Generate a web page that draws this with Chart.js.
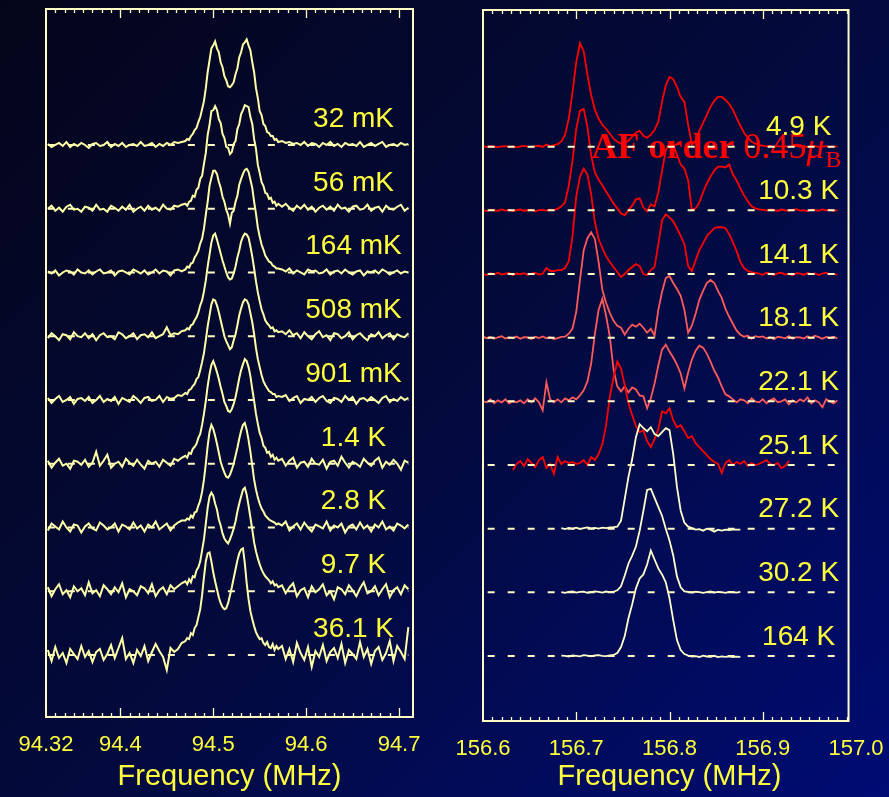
<!DOCTYPE html>
<html lang="en">
<head>
<meta charset="UTF-8">
<title>NMR spectra vs temperature</title>
<script src="https://cdn.jsdelivr.net/npm/chart.js"></script>
<style>
  html, body { margin: 0; padding: 0; }
  body {
    width: 889px; height: 797px; overflow: hidden; position: relative;
    background: linear-gradient(135deg, #05051a 0%, #030a3c 50%, #000c74 100%);
  }
  canvas { position: absolute; top: 0; }
  #leftChart { left: 0; }
  #rightChart { left: 439px; }
</style>
</head>
<body>
<canvas id="leftChart" width="445" height="797"></canvas>
<canvas id="rightChart" width="461" height="797"></canvas>

<script>
const SANS = '"Liberation Sans", Arial, sans-serif';
const SERIF = '"Liberation Serif", "Times New Roman", serif';
const YELLOW = '#ffff3c';
const CREAM = '#fffcc4';

// frequency grids (MHz)
const leftFreq = [
  94.322, 94.326, 94.330, 94.334, 94.338, 94.342, 94.346, 94.350, 94.354, 94.358,
  94.362, 94.366, 94.370, 94.374, 94.378, 94.382, 94.386, 94.390, 94.394, 94.398,
  94.402, 94.406, 94.410, 94.414, 94.418, 94.422, 94.426, 94.430, 94.434, 94.438,
  94.442, 94.446, 94.450, 94.454, 94.458, 94.462, 94.466,
  94.470, 94.472, 94.474, 94.476, 94.478, 94.480, 94.482, 94.484, 94.486, 94.488,
  94.490, 94.492, 94.494, 94.496, 94.498, 94.500, 94.502, 94.504, 94.506, 94.508,
  94.510, 94.512, 94.514, 94.516, 94.518, 94.520, 94.522, 94.524, 94.526, 94.528,
  94.530, 94.532, 94.534, 94.536, 94.538, 94.540, 94.542, 94.544, 94.546, 94.548,
  94.550, 94.552, 94.554, 94.556, 94.558, 94.560, 94.562, 94.564, 94.566, 94.568, 94.570,
  94.574, 94.578, 94.582, 94.586, 94.590, 94.594, 94.598, 94.602, 94.606, 94.610,
  94.614, 94.618, 94.622, 94.626, 94.630, 94.634, 94.638, 94.642, 94.646, 94.650,
  94.654, 94.658, 94.662, 94.666, 94.670, 94.674, 94.678, 94.682, 94.686, 94.690,
  94.694, 94.698, 94.702, 94.706, 94.710
];
const rightFreq = [
  156.600, 156.604, 156.608, 156.612, 156.616, 156.620, 156.624, 156.628, 156.632, 156.636,
  156.640, 156.644, 156.648, 156.652, 156.656, 156.660, 156.664, 156.668, 156.672, 156.676,
  156.680, 156.684, 156.688, 156.692, 156.696, 156.700, 156.704, 156.708, 156.712, 156.716,
  156.720, 156.724, 156.728, 156.732, 156.736, 156.740, 156.744, 156.748, 156.752, 156.756,
  156.760, 156.764, 156.768, 156.772, 156.776, 156.780, 156.784, 156.788, 156.792, 156.796,
  156.800, 156.804, 156.808, 156.812, 156.816, 156.820, 156.824, 156.828, 156.832, 156.836,
  156.840, 156.844, 156.848, 156.852, 156.856, 156.860, 156.864, 156.868, 156.872, 156.876,
  156.880, 156.884, 156.888, 156.892, 156.896, 156.900, 156.904, 156.908, 156.912, 156.916,
  156.920, 156.924, 156.928, 156.932, 156.936, 156.940, 156.944, 156.948, 156.952, 156.956,
  156.960, 156.964, 156.968, 156.972, 156.976, 156.980
];
// shorter sweeps used for the 25.1 K and the paramagnetic spectra
const freq25K = rightFreq.slice(8, 83);
const freqPara = rightFreq.slice(21, 70);

const leftTemps = ['32 mK', '56 mK', '164 mK', '508 mK', '901 mK', '1.4 K', '2.8 K', '9.7 K', '36.1 K'];
const rightTemps = ['4.9 K', '10.3 K', '14.1 K', '18.1 K', '22.1 K', '25.1 K', '27.2 K', '30.2 K', '164 K'];

// left panel spectra, intensity (arb. units)
const s32mK = [
  1, -2, 0, 2, -1, 3, -2, 1, -1, 2, 0, -3, 1, 2, -1, 0, 3, -2, 1, -1, 2, -2, 0, 1, -1, 3, -1, 0, 2, -2, 1, -1, 2, 0, 3, 2, 3,
  4, 6, 5, 9, 11, 15, 17, 23, 28, 36, 44, 57, 73, 85, 97, 100, 104, 97, 93, 83, 78, 69, 65, 59, 58, 60, 63, 71, 77, 88,
  93, 101, 103, 106, 100, 95, 83, 73, 57, 47, 34, 30, 21, 19, 13, 12, 9, 9, 5, 6, 3,
  4, 2, 3, 1, 2, 0, 3, -1, 2, 1, -2, 2, 0, 3, -1, 1, -2, 2, 0, 1, -1, 3, -2, 0, 2, -1, 1, 3, -2, 0, 1, -1, 2, 0, 1
];
const s56mK = [
  0, 3, -2, 1, -3, 2, 4, -1, 0, -3, 2, 1, -2, 4, -1, 0, -3, 3, 1, -2, 2, -1, 4, -3, 0, 2, -2, 3, -1, 1, -2, 4, 0, -1, 3, 2, 4,
  5, 3, 7, 8, 13, 12, 19, 21, 30, 33, 45, 56, 74, 84, 98, 99, 103, 99, 90, 86, 75, 71, 62, 61, 55, 57, 65, 68, 80, 85,
  95, 99, 104, 103, 102, 92, 85, 70, 60, 44, 36, 27, 23, 16, 15, 10, 11, 6, 7, 3, 5,
  2, 5, 1, -2, 3, 0, 4, -1, 2, -3, 1, 3, -1, 2, -2, 4, 0, 1, -3, 2, 3, -1, 0, 4, -2, 1, 2, -3, 3, 0, -1, 2, 4, -2, 1
];
const s164mK = [
  1, -1, 2, -3, 0, 2, 1, -2, 3, 0, -1, 2, -2, 1, 3, -1, 0, 2, -3, 1, 2, 0, -2, 3, 1, -1, 2, -2, 0, 3, -1, 2, 1, -3, 2, 3, 1,
  3, 6, 5, 9, 10, 15, 18, 22, 29, 34, 44, 58, 71, 87, 95, 102, 102, 99, 91, 85, 76, 71, 63, 58, 49, 60, 62, 71, 77, 88,
  94, 99, 103, 104, 101, 93, 85, 71, 59, 45, 36, 28, 23, 17, 14, 11, 10, 7, 6, 4, 4,
  3, 1, 4, -1, 2, 0, -2, 3, 1, 2, -1, 0, 3, -2, 1, 2, -1, 3, 0, -2, 1, 2, -3, 1, 0, 2, -1, 3, 1, -2, 0, 2, -1, 1, 0
];
const s508mK = [
  -2, 3, 0, -4, 2, 1, -3, 4, 0, -1, 3, -2, 2, -4, 1, 3, -1, 0, -3, 4, 2, -2, 0, 3, -3, 1, 2, -1, 4, -2, 0, 2, 9, 1, 3, 2, 5,
  6, 8, 7, 11, 12, 16, 19, 24, 31, 36, 45, 56, 70, 82, 94, 101, 103, 97, 90, 83, 76, 70, 64, 59, 57, 58, 63, 70, 79, 86,
  95, 100, 103, 102, 99, 90, 80, 68, 55, 44, 35, 27, 22, 16, 13, 11, 8, 9, 5, 6, 4,
  5, 2, 6, 1, 3, -2, 4, 0, -3, 2, 5, -1, 1, -4, 3, 2, -2, 0, 4, -3, 1, 3, -1, -4, 2, 0, 4, -2, 1, 3, -3, 2, 0, -1, 3
];
const s901mK = [
  2, -3, 1, 4, -2, 0, 3, -4, 1, 2, -1, 3, -3, 0, 4, -2, 1, -1, 3, -4, 2, 0, -2, 4, 1, -3, 2, 3, -1, 0, 4, -2, 3, 1, 2, 5, 4,
  7, 6, 10, 11, 14, 16, 21, 23, 30, 38, 47, 60, 74, 85, 96, 101, 100, 95, 88, 80, 72, 64, 59, 55, 51, 53, 60, 66, 75, 85,
  92, 98, 101, 100, 96, 87, 78, 66, 52, 41, 33, 25, 19, 15, 12, 9, 8, 6, 6, 3, 4,
  3, 5, -1, 2, 4, -3, 1, 0, 3, -2, 2, 4, -1, -3, 2, 1, -2, 4, 0, 3, -4, 1, 2, -1, 3, 0, -3, 2, 4, -2, 1, -1, 3, 0, 2
];
const s1p4K = [
  3, -4, 1, 5, -2, 0, -5, 3, 2, -1, 4, -3, 1, 12, -2, 3, 9, -4, 0, 2, -3, 5, 1, -2, 4, -1, -5, 3, 0, 2, -3, 4, 1, -2, 5, 3, 6,
  8, 6, 11, 10, 15, 17, 20, 26, 30, 39, 50, 63, 78, 90, 99, 103, 98, 92, 85, 77, 70, 62, 58, 53, 52, 55, 60, 67, 76, 86,
  94, 100, 105, 103, 97, 88, 75, 63, 50, 40, 31, 26, 18, 16, 11, 12, 7, 9, 4, 6, 3,
  5, -2, 3, 6, -4, 1, 2, -3, 5, 0, -1, 4, -5, 2, 3, -2, 7, 1, -4, 2, 0, -3, 5, 1, -2, 3, 6, -4, 2, -1, 4, 0, -6, 3, 1
];
const s2p8K = [
  -3, 4, 1, -2, 6, 0, -4, 3, 2, -5, 1, 4, -1, -3, 5, 2, -2, 0, 4, -4, 3, 1, -2, 5, -1, 2, -4, 3, 0, 6, -2, 1, 4, -3, 2, 5, 7,
  7, 9, 8, 12, 10, 15, 16, 22, 27, 36, 48, 64, 82, 96, 103, 99, 92, 84, 75, 66, 60, 55, 51, 50, 53, 58, 64, 72, 80, 89,
  97, 103, 105, 98, 88, 76, 62, 48, 38, 30, 24, 19, 16, 12, 10, 8, 7, 6, 5, 3, 4,
  2, 6, -3, 1, 4, -2, 5, 0, -4, 3, 1, -1, 6, -3, 2, 0, 4, -5, 1, 3, -2, 5, -1, 2, -4, 3, 0, 6, -2, 1, -3, 4, 2, -1, 3
];
const s9p7K = [
  4, -5, 2, 7, -3, 1, -6, 5, 0, 3, -4, 9, -2, 1, -5, 6, 2, -3, 4, -1, 8, -6, 2, 0, -4, 5, 3, -2, 7, -5, 1, 4, -3, 6, 2, 5, 8,
  10, 7, 12, 9, 15, 14, 21, 24, 30, 41, 52, 68, 84, 95, 99, 96, 88, 82, 72, 66, 58, 53, 50, 48, 52, 57, 63, 70, 80, 88,
  95, 102, 104, 97, 86, 74, 62, 49, 40, 33, 27, 22, 18, 15, 13, 11, 8, 10, 6, 7, 4,
  6, -2, 4, 8, -5, 1, 3, -6, 5, -1, 2, 7, -4, 0, -8, 4, 2, -3, 6, 1, -5, 3, 9, -2, 0, 5, -4, 2, 7, -6, 1, 4, -3, 6, 2
];
const s36p1K = [
  5, -6, 8, -3, 2, -8, 6, 1, -4, 9, -2, 4, -7, 3, 6, -5, 1, 10, -3, 7, 17, -4, 2, -8, 5, -1, 9, -6, 3, 11, 4, -2, -15, 7, 3, 6, 12,
  14, 17, 16, 22, 20, 27, 30, 38, 46, 60, 78, 94, 102, 103, 94, 83, 74, 66, 58, 52, 48, 46, 47, 52, 60, 68, 77, 86, 95, 102,
  106, 107, 92, 72, 56, 44, 36, 29, 23, 19, 16, 17, 12, 10, 13, 8, 7, 11, 5, 9, 6,
  9, -4, 6, -7, 12, 2, -5, 8, -12, 4, -2, 10, -6, 3, 7, -3, 11, -8, 5, 1, -4, 13, -2, 6, -9, 4, 8, -5, 2, 14, -6, 9, 3, -4, 28
];

// right panel spectra, intensity (arb. units)
const s4p9K = [
  0.5, -0.3, 0.4, 0, -0.5, 0.3, 0.6, -0.2, 0.2, -0.6, 0.3, 0.8, 0.1, -0.4, 0.5, 0.9, -0.3, 2.2, 0.4, 1.5,
  2.5, 5, 12, 28, 55, 85, 104, 96, 72, 52, 37, 28, 22, 18, 13, 8, 5, 3, 4, 6,
  10, 14, 16, 11, 9, 12, 17, 25, 45, 62, 70, 68, 60, 50, 45, 22, 2, 6, 16, 24,
  32, 40, 46, 50, 50, 47, 43, 37, 29, 21, 14, 9, 5, 3, 1.5,
  1, 0.3, 0.8, -0.2, 0.5, 0, 0.6, -0.4, 0.2, 0.7, -0.1, 0.4, -0.5, 0.3, 0.6, -0.2, 0.1, 0.5, -0.3, 0.2, 0
];
const s10p3K = [
  0.3, -0.8, 0.6, 0.1, -0.5, 0.9, -0.2, 0.4, -0.7, 0.2, 0.8, -0.4, 0.1, 0.6, -0.9, 0.3, 0.5, -0.2, 0.7, 0.4,
  1.5, 4, 8, 25, 50, 82, 100, 102, 84, 55, 38, 31, 25, 19, 13, 7, 2, -3, -5, 0,
  5, 11, 12, 3, -1, 6, 4, 18, 40, 60, 68, 66, 56, 46, 42, 30, 0, 2, 8, 18,
  27, 34, 40, 44, 44, 43, 46, 36, 30, 22, 15, 9, 4, 2, 1,
  0.6, -0.3, 1, 0.2, -0.6, 0.8, 0.1, -0.4, 0.5, 1.1, -0.2, 0.3, -0.7, 0.6, 0.2, -0.5, 0.9, -0.1, 0.4, -0.6, 0.2
];
const s14p1K = [
  0.2, -1, 0.8, -0.4, 1.2, -0.6, 0.3, 1, -1.2, 0.5, -0.2, 0.9, -0.8, 0.4, 1.1, -0.5, 0.2, 6, 3, 3,
  4, 4, 6, 13, 38, 78, 98, 106, 100, 80, 52, 35, 26, 18, 12, 7, 2, -3, 0, 4,
  7, 10, 8, 0, -1, 4, 7, 30, 54, 60, 57, 53, 46, 38, 30, 8, 3, 14, 24, 31,
  38, 42, 46, 47, 47, 46, 40, 32, 23, 12, 6, 3, 2, 1, 0.5,
  -0.8, 1.2, 0.3, -1, 0.7, 1.4, -0.5, 0.2, -1.3, 0.9, 0.4, -0.7, 1, -0.2, 0.6, -1.1, 0.5, 1.3, -0.4, 0.1, -1
];
const s18p1K = [
  1, -0.5, 0.8, -1.2, 0.4, 1.5, -0.8, 0.2, -0.4, 1.1, -1, 0.6, 0.3, -1.4, 0.9, -0.3, 1.2, -0.7, 0.5, -1.5,
  -0.5, 0.8, 1, 4, 9, 26, 58, 88, 100, 106, 99, 76, 48, 35, 25, 17, 12, 10, 3, 9,
  13, 11, 14, 10, 5, 9, 2, 28, 46, 60, 62, 55, 49, 42, 28, 5, 12, 24, 38, 47,
  55, 58, 55, 47, 40, 29, 21, 14, 7, 3, 1, 2, -1, 1.5, 0.5,
  1.2, -0.8, 0.4, -1.5, 1, 0.3, -0.6, 1.6, -1.1, 0.5, 0.2, -0.9, 1.3, -0.4, 2, 0.6, -1.2, 0.8, -0.3, 1, -0.7
];
const s22p1K = [
  0, -1, 2, -2, 1, -1, 2, -2, 0, -1, 1, -2, 2, -1, 3, -1, -9, 19, 2, -1,
  2, -1, 3, 1, 4, 2, 6, 11, 20, 38, 68, 92, 103, 86, 65, 32, 15, 10, 15, 9,
  14, 12, 6, 5, -7, 3, 18, 36, 52, 57, 50, 44, 37, 28, 13, 29, 42, 51, 56, 54,
  48, 40, 31, 24, 15, 7, 5, 2, -1, 2, 1, -2, 3, 0, -1,
  2, -2, 1, 3, -1, 0, 2, -3, 1, -1, 2, 0, 4, -2, 1, -1, -6, 2, 0, -2, 1
];
const s25p1K = [
  -5, 1, 4, -1, 6, 2, -2, 5, 8, -3, 1, -9, 8, 1, 4, 2, 3, 1, 2, 5,
  0, 8, 5, 11, 21, 40, 69, 88, 104, 97, 80, 62, 50, 39, 33, 35, 24, 18, 26, 36,
  54, 52, 57, 45, 38, 40, 34, 27, 29, 22, 18, 14, 10, 6, 3, 1, -8, 2, 5, 0,
  3, 1, 4, -1, 2, 0, 1, 3, 5, 1, 0, 2, -3, -1, 4
];
const s27p2K = [
  0.5, -0.5, 0.8, 0, 1, -0.3, 0.6, 1.2, 0.2, 0.8, 0.1, 1, 0.5, 1.2, 1.5, 2, 8, 30, 52, 70,
  92, 105, 101, 98, 102, 95, 93, 97, 101, 99, 75, 42, 18, 6, 2, 0.5, -1, -0.5, -2, 0,
  -1, -3, -1, -2, -1, -1.5, -1, -1, -1
];
const s30p2K = [
  0.3, -0.6, 0.5, 0.9, -0.2, 0.4, 0.7, -0.5, 0.2, 1, 0.4, -0.3, 0.8, 0.2, 0.6, 2, 6, 17, 29, 37,
  46, 62, 82, 103, 104, 95, 86, 77, 64, 52, 37, 16, 5, 1, 0.4, -0.3, 0.6, 0.2, -0.5, 0.3,
  0.8, -0.2, 0.4, 0.1, -0.6, 0.5, 0.2, -0.3, 0.4
];
const s164K = [
  0.4, 0.1, -0.5, 0.6, 0.2, -0.3, 0.8, 0.3, -0.4, 0.5, 0.9, 0.2, -0.2, 0.6, 1, 3, 9, 20, 38, 52,
  68, 78, 82, 92, 106, 97, 88, 82, 74, 58, 36, 16, 6, 2, 0.5, -0.6, -0.2, -1, 0.3, -0.5,
  -0.8, 0.2, -1.2, -0.4, -0.9, -0.3, -1, -0.6, -0.8
];

const leftSpectra = [s32mK, s56mK, s164mK, s508mK, s901mK, s1p4K, s2p8K, s9p7K, s36p1K];
const rightSpectra = [s4p9K, s10p3K, s14p1K, s18p1K, s22p1K, s25p1K, s27p2K, s30p2K, s164K];
const rightSweeps = [rightFreq, rightFreq, rightFreq, rightFreq, rightFreq, freq25K, freqPara, freqPara, freqPara];

const RED = '#ff0000', SALMON = '#ff5a5a', PALE = '#ffffc8', LEFT_LINE = '#ffffa8';
const rightColors = [RED, RED, RED, SALMON, SALMON, RED, PALE, PALE, PALE];

const STEP = 64; // vertical offset between spectra

// frame, inward tick marks and temperature labels
const framePlugin = {
  id: 'frame',
  beforeDatasetsDraw(chart, args, opts) {
    if (opts.under) opts.under(chart);
  },
  afterDatasetsDraw(chart, args, opts) {
    const { ctx, chartArea, scales: { x, y } } = chart;
    const left = x.getPixelForValue(opts.frameMin);
    const right = x.getPixelForValue(opts.frameMax);
    const top = chartArea.top, bottom = chartArea.bottom;
    ctx.save();
    ctx.strokeStyle = CREAM;
    ctx.lineWidth = 1.3;
    x.ticks.forEach(t => {
      const v = t.value;
      if (v <= opts.frameMin + 1e-6 || v >= opts.frameMax - 1e-6) return;
      const px = Math.round(x.getPixelForValue(v)) + 0.5;
      const major = Math.abs(v * 10 - Math.round(v * 10)) < 1e-6;
      const len = major ? 9 : 4;
      ctx.beginPath();
      ctx.moveTo(px, top); ctx.lineTo(px, top + len);
      ctx.moveTo(px, bottom); ctx.lineTo(px, bottom - len);
      ctx.stroke();
    });
    ctx.lineWidth = 2;
    ctx.strokeRect(left, top, right - left, bottom - top);

    ctx.fillStyle = YELLOW;
    ctx.font = '28px ' + SANS;
    ctx.textAlign = 'center';
    ctx.textBaseline = 'middle';
    const n = opts.labels.length;
    opts.labels.forEach((txt, i) => {
      const off = STEP * (n - 1 - i);
      ctx.fillText(txt, x.getPixelForValue(opts.labelFreq), y.getPixelForValue(off + opts.labelLift));
    });
    ctx.restore();
  }
};

function traceSet(freqs, values, offset, color, width, order) {
  return {
    data: values.map((v, i) => ({ x: freqs[i], y: v + offset })),
    borderColor: color, borderWidth: width,
    pointRadius: 0, tension: 0, fill: false, order
  };
}

function dashSet(x0, x1, offset, order) {
  return {
    data: [{ x: x0, y: offset }, { x: x1, y: offset }],
    borderColor: CREAM, borderWidth: 2, borderDash: [7, 13],
    pointRadius: 0, fill: false, order
  };
}

function makePanel(el, cfg) {
  const n = cfg.spectra.length;
  const datasets = [];
  cfg.spectra.forEach((vals, i) => {
    const off = STEP * (n - 1 - i);
    datasets.push(traceSet(cfg.sweeps[i], vals, off, cfg.colors[i], cfg.width, n - i));
    datasets.push(dashSet(cfg.dashFrom, cfg.dashTo, off, cfg.dashOrder));
  });

  return new Chart(el, {
    type: 'line',
    data: { datasets },
    options: {
      responsive: false,
      animation: false,
      layout: { padding: cfg.padding },
      plugins: {
        legend: { display: false },
        tooltip: { enabled: false },
        frame: {
          frameMin: cfg.xMin, frameMax: cfg.frameMax,
          labels: cfg.labels, labelFreq: cfg.labelFreq, labelLift: cfg.labelLift,
          under: cfg.under
        }
      },
      scales: {
        x: {
          type: 'linear', min: cfg.xMin, max: cfg.xMax,
          afterFit: s => { s.height = cfg.axisHeight; },
          grid: { display: false, drawTicks: false },
          border: { display: false },
          ticks: {
            stepSize: 0.01, maxTicksLimit: 1000, autoSkip: false, maxRotation: 0, minRotation: 0,
            padding: 15, color: YELLOW, font: { family: SANS, size: 22 },
            callback: cfg.tickFormat
          },
          title: {
            display: true, text: 'Frequency (MHz)', color: YELLOW,
            font: { family: SANS, size: 29 }, padding: { top: 0, bottom: 3 }
          }
        },
        y: { type: 'linear', display: false, min: cfg.yMin, max: cfg.yMax }
      }
    },
    plugins: [framePlugin]
  });
}

const isTenth = v => Math.abs(v * 10 - Math.round(v * 10)) < 1e-6;

makePanel(document.getElementById('leftChart'), {
  spectra: leftSpectra,
  sweeps: leftSpectra.map(() => leftFreq),
  colors: leftSpectra.map(() => LEFT_LINE),
  width: 2,
  labels: leftTemps, labelFreq: 94.651, labelLift: 26,
  xMin: 94.32, xMax: 94.715, frameMax: 94.715,
  yMin: -62.25, yMax: 648.5,
  dashFrom: 94.322, dashTo: 94.71, dashOrder: 100,
  padding: { left: 46, right: 32, top: 9, bottom: 0 },
  axisHeight: 80,
  tickFormat: v => {
    if (Math.abs(v - 94.32) < 1e-6) return '94.32';
    return isTenth(v) ? String(Math.round(v * 10) / 10) : '';
  }
});

// "AF order 0.45 μB" caption over the ordered-phase spectra
function drawOrderCaption(chart) {
  const { ctx, scales: { x, y } } = chart;
  let px = x.getPixelForValue(156.7164);
  const py = y.getPixelForValue(500.6);
  ctx.save();
  ctx.fillStyle = '#ff0000';
  ctx.textAlign = 'left';
  ctx.textBaseline = 'alphabetic';
  [['bold 36px ', 'AF order '], ['36px ', '0.45'], ['italic 36px ', '\u03bc']].forEach(([f, t]) => {
    ctx.font = f + SERIF;
    ctx.fillText(t, px, py);
    px += ctx.measureText(t).width;
  });
  ctx.font = '24px ' + SERIF;
  ctx.fillText('B', px + 1, py + 9);
  ctx.restore();
}

makePanel(document.getElementById('rightChart'), {
  spectra: rightSpectra,
  sweeps: rightSweeps,
  colors: rightColors,
  width: 1.8,
  labels: rightTemps, labelFreq: 156.9385, labelLift: 19,
  xMin: 156.6, xMax: 157.0, frameMax: 156.992,
  yMin: -65.35, yMax: 649.4,
  dashFrom: 156.605, dashTo: 156.98, dashOrder: -1,
  padding: { left: 44, right: 44, top: 10, bottom: 0 },
  axisHeight: 76,
  under: drawOrderCaption,
  tickFormat: v => isTenth(v) ? (Math.round(v * 10) / 10).toFixed(1) : ''
});
</script>
</body>
</html>
